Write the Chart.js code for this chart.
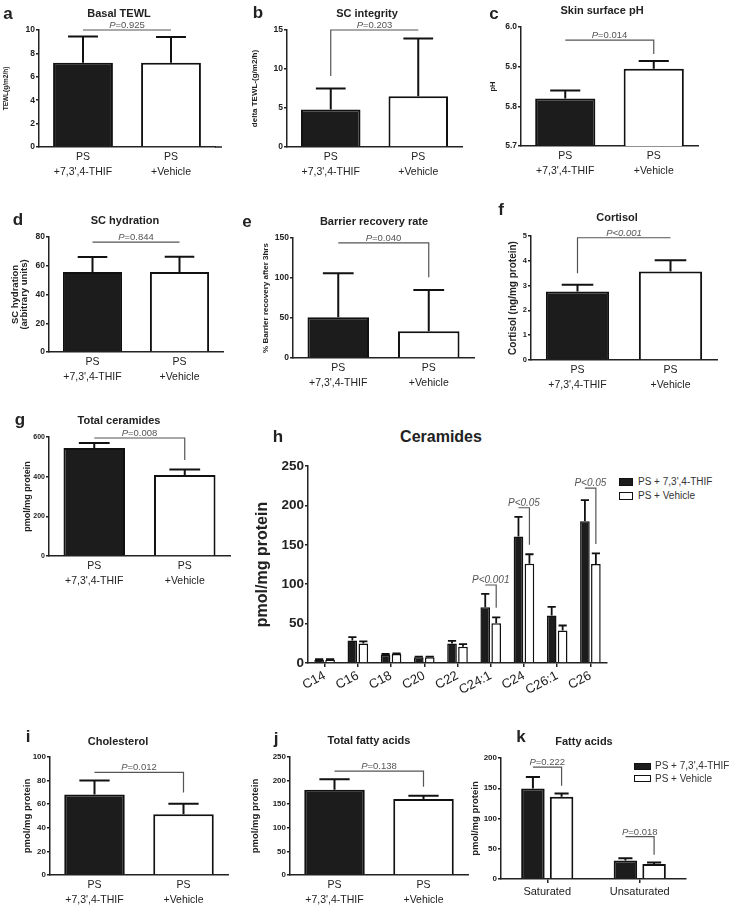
<!DOCTYPE html>
<html>
<head>
<meta charset="utf-8">
<script src="https://cdn.jsdelivr.net/npm/chart.js@4.4.1/dist/chart.umd.min.js"></script>
<style>
  body { margin: 0; background: #fff; width: 732px; height: 909px; position: relative; overflow: hidden;
         font-family: "Liberation Sans", Arial, sans-serif; }
  canvas { position: absolute; }
  .t { position: absolute; transform: translate(-50%, -50%); white-space: nowrap; font-weight: bold; color: #222; line-height: 1; }
  .lg { position: absolute; transform: translate(0, -50%); white-space: nowrap; font-size: 10px; color: #333; line-height: 1; }
  .sq { position: absolute; box-sizing: border-box; border: 1.5px solid #111; }
</style>
</head>
<body>
<script>
// ---- data ----
const groupLabels = [['PS', "+7,3',4-THIF"], ['PS', '+Vehicle']];
const ceramideLabels = ['C14', 'C16', 'C18', 'C20', 'C22', 'C24:1', 'C24', 'C26:1', 'C26'];
const fattyLabels = ['Saturated', 'Unsaturated'];
const seriesNames = ["PS + 7,3',4-THIF", 'PS + Vehicle'];

const basalTewl = [7.2, 7.2];
const basalTewlErr = [2.25, 2.2];
const scIntegrity = [4.8, 6.5];
const scIntegrityErr = [2.7, 7.4];
const skinPh = [5.82, 5.895];
const skinPhErr = [0.02, 0.019];
const scHydration = [55.6, 55.6];
const scHydrationErr = [10.5, 10.7];
const barrierRecovery = [50.8, 33.3];
const barrierRecoveryErr = [55, 51.7];
const cortisol = [2.76, 3.57];
const cortisolErr = [0.27, 0.45];
const totalCeramides = [544, 409];
const totalCeramidesErr = [26, 27];
const cholesterol = [68.2, 51.5];
const cholesterolErr = [11.8, 8.8];
const totalFattyAcids = [180.6, 160.8];
const totalFattyAcidsErr = [22.4, 7];

const cerThif = [4.2, 28.7, 10.5, 7.2, 24.9, 70.8, 160.6, 60.3, 180];
const cerThifErr = [0.6, 4.2, 0.9, 0.8, 3.3, 16.9, 24.9, 10.9, 26.6];
const cerVehicle = [4.2, 24.9, 11.4, 7.2, 20.7, 50.6, 126, 41.3, 125.6];
const cerVehicleErr = [0.6, 2.5, 0.8, 0.8, 3.3, 7.4, 12, 6.3, 13.4];

const faThif = [149.6, 30.7];
const faThifErr = [19.2, 3.8];
const faVehicle = [135.9, 24.7];
const faVehicleErr = [5.5, 2.7];

// y axis ranges [min, max, step]
const basalTewlAxis = [0, 10, 2];
const scIntegrityAxis = [0, 15, 5];
const skinPhAxis = [5.7, 6.0, 0.1];
const scHydrationAxis = [0, 80, 20];
const barrierRecoveryAxis = [0, 150, 50];
const cortisolAxis = [0, 5, 1];
const totalCeramidesAxis = [0, 600, 200];
const ceramidesAxis = [0, 250, 50];
const cholesterolAxis = [0, 100, 20];
const totalFattyAcidsAxis = [0, 250, 50];
const fattyAcidsAxis = [0, 200, 50];

// significance brackets: [category, text, level, left drop, right drop]
const basalTewlP = [[0, 'P=0.925', 10, null, null]];
const scIntegrityP = [[0, 'P=0.203', 15, 9.1, null]];
const skinPhP = [[0, 'P=0.014', 5.967, null, 5.932]];
const scHydrationP = [[0, 'P=0.844', 76.5, null, null]];
const barrierRecoveryP = [[0, 'P=0.040', 144, null, 101]];
const cortisolP = [[0, 'P<0.001', 4.93, 3.5, null]];
const totalCeramidesP = [[0, 'P=0.008', 595, null, 484]];
const ceramidesP = [[5, 'P<0.001', 99, null, 70], [6, 'P<0.05', 197, null, 150], [8, 'P<0.05', 222, null, 151]];
const cholesterolP = [[0, 'P=0.012', 87, null, 70]];
const totalFattyAcidsP = [[0, 'P=0.138', 220, null, 187]];
const fattyAcidsP = [[0, 'P=0.222', 185, null, 154], [1, 'P=0.018', 70, null, 40]];

// ---- drawing ----
Chart.defaults.font.family = '"Liberation Sans", Arial, sans-serif';
Chart.defaults.color = '#222';

const extras = {
  id: 'extras',
  afterDatasetsDraw(chart, args, opts) {
    const ctx = chart.ctx;
    const ys = chart.scales.y;
    const area = chart.chartArea;
    ctx.save();
    // error bars (upper only)
    ctx.strokeStyle = '#111';
    ctx.lineWidth = opts.errWidth || 2;
    (opts.err || []).forEach((errs, di) => {
      const meta = chart.getDatasetMeta(di);
      meta.data.forEach((bar, i) => {
        const v = chart.data.datasets[di].data[i];
        const top = ys.getPixelForValue(v + errs[i]);
        const half = bar.width * opts.cap / 2;
        ctx.beginPath();
        ctx.moveTo(bar.x, bar.y);
        ctx.lineTo(bar.x, top);
        ctx.moveTo(bar.x - half, top);
        ctx.lineTo(bar.x + half, top);
        ctx.stroke();
      });
    });
    // axis line a bit longer than the plot
    if (opts.ext) {
      ctx.lineWidth = 1.5;
      ctx.strokeStyle = '#222';
      ctx.beginPath();
      ctx.moveTo(area.right, area.bottom);
      ctx.lineTo(area.right + opts.ext, area.bottom);
      ctx.stroke();
    }
    // brackets
    (opts.brackets || []).forEach(bk => {
      const [cat, text, level, dropL, dropR] = bk;
      const a = opts.grouped ? chart.getDatasetMeta(0).data[cat] : chart.getDatasetMeta(0).data[0];
      const b = opts.grouped ? chart.getDatasetMeta(1).data[cat] : chart.getDatasetMeta(0).data[1];
      const y = ys.getPixelForValue(level);
      ctx.strokeStyle = '#555';
      ctx.lineWidth = 1.2;
      ctx.beginPath();
      if (dropL != null) {
        ctx.moveTo(a.x, ys.getPixelForValue(dropL));
        ctx.lineTo(a.x, y);
      } else {
        ctx.moveTo(a.x, y);
      }
      ctx.lineTo(b.x, y);
      if (dropR != null) ctx.lineTo(b.x, ys.getPixelForValue(dropR));
      ctx.stroke();

      const size = opts.pSize || 9.5;
      const fam = Chart.defaults.font.family;
      const head = text.slice(0, 1);
      const rest = text.slice(1);
      const restStyle = opts.allItalic ? 'italic ' : '';
      ctx.font = 'italic ' + size + 'px ' + fam;
      const w1 = ctx.measureText(head).width;
      ctx.font = restStyle + size + 'px ' + fam;
      const w2 = ctx.measureText(rest).width;
      let x = (a.x + b.x) / 2 - (w1 + w2) / 2;
      ctx.fillStyle = '#555';
      ctx.textBaseline = 'alphabetic';
      ctx.textAlign = 'left';
      ctx.font = 'italic ' + size + 'px ' + fam;
      ctx.fillText(head, x, y - 2);
      ctx.font = restStyle + size + 'px ' + fam;
      ctx.fillText(rest, x + w1, y - 2);
    });
    ctx.restore();
  }
};

function addText(cls, txt, x, y, size) {
  const d = document.createElement('div');
  d.className = cls;
  d.textContent = txt;
  d.style.left = x + 'px';
  d.style.top = y + 'px';
  d.style.fontSize = size + 'px';
  document.body.appendChild(d);
}

function buildPanel(p) {
  const [x0, y0, x1, y1] = p.box;
  const [l, t, r, b] = p.plot;
  const cv = document.createElement('canvas');
  cv.width = x1 - x0;
  cv.height = y1 - y0;
  cv.style.left = x0 + 'px';
  cv.style.top = y0 + 'px';
  document.body.appendChild(cv);

  const yFontSize = p.yFont;
  const yLine = p.yLine || 1.2;
  const yTitlePad = p.yCx - x0 - yFontSize * yLine / 2;

  new Chart(cv, {
    type: 'bar',
    data: { labels: p.labels, datasets: p.datasets },
    plugins: [extras],
    options: {
      responsive: false,
      animation: false,
      devicePixelRatio: 1,
      layout: { padding: { top: t - y0, right: x1 - r, left: 0, bottom: 0 } },
      plugins: {
        legend: { display: false },
        tooltip: { enabled: false },
        extras: p.extras
      },
      scales: {
        x: {
          grid: p.xTicks
            ? { display: true, drawOnChartArea: false, drawTicks: true, tickLength: 4, offset: false, color: '#222', lineWidth: 1.5 }
            : { display: false, drawTicks: false },
          border: { display: true, color: '#222', width: 1.5 },
          ticks: Object.assign({ color: '#222', font: { size: 10.5, lineHeight: 1.4 }, padding: 3, autoSkip: false, maxRotation: 0, minRotation: 0 }, p.xTickOpts || {}),
          afterFit: s => { s.height = y1 - b; }
        },
        y: {
          min: p.axis[0],
          max: p.axis[1],
          grid: { display: true, drawOnChartArea: false, drawTicks: true, tickLength: 3, color: '#222', lineWidth: 1.5 },
          border: { display: true, color: '#222', width: 1.5 },
          ticks: Object.assign({ stepSize: p.axis[2], color: '#222', padding: 1, font: { size: p.yTickSize || 8.5, weight: 'bold' } }, p.yTickOpts || {}),
          title: {
            display: true,
            text: p.yTitle,
            color: '#222',
            font: { size: yFontSize, weight: 'bold', lineHeight: yLine },
            padding: { top: yTitlePad, bottom: 0 }
          },
          afterFit: s => { s.width = l - x0; }
        }
      }
    }
  });
}

function pairSet(values, pct) {
  return [{
    data: values,
    backgroundColor: ['#1c1c1c', '#ffffff'],
    borderColor: '#111',
    borderWidth: 2,
    categoryPercentage: 1,
    barPercentage: pct || 0.68
  }];
}

function groupSets(a, bVals, cat, bar, bw) {
  return [
    { label: seriesNames[0], data: a, backgroundColor: '#1c1c1c', borderColor: '#111', borderWidth: bw, categoryPercentage: cat, barPercentage: bar },
    { label: seriesNames[1], data: bVals, backgroundColor: '#ffffff', borderColor: '#111', borderWidth: bw, categoryPercentage: cat, barPercentage: bar }
  ];
}

const pairPanels = [
  { box: [0, 5, 232, 190], plot: [39, 30, 215, 147], ext: 7, values: basalTewl, err: basalTewlErr, axis: basalTewlAxis, p: basalTewlP,
    yTitle: 'TEWL(g/m2/h)', yFont: 6.5, yCx: 6 },
  { box: [240, 5, 475, 190], plot: [287, 30, 462, 147], ext: 0, values: scIntegrity, err: scIntegrityErr, axis: scIntegrityAxis, p: scIntegrityP,
    yTitle: 'delta TEWL-(g/m2/h)', yFont: 8, yCx: 255 },
  { box: [480, 5, 732, 190], plot: [521, 27, 698, 146], ext: 0, values: skinPh, err: skinPhErr, axis: skinPhAxis, p: skinPhP,
    yTitle: 'pH', yFont: 7.5, yCx: 493, yTickOpts: { callback: v => v.toFixed(1) } },
  { box: [0, 215, 232, 395], plot: [49, 237, 223, 352], ext: 0, values: scHydration, err: scHydrationErr, axis: scHydrationAxis, p: scHydrationP,
    yTitle: ['SC hydration', '(arbitrary units)'], yFont: 9.5, yLine: 0.95, yCx: 15 },
  { box: [240, 215, 478, 395], plot: [293, 238, 474, 358], ext: 0, values: barrierRecovery, err: barrierRecoveryErr, axis: barrierRecoveryAxis, p: barrierRecoveryP,
    yTitle: '% Barrier recovery after 3hrs', yFont: 8, yCx: 266 },
  { box: [480, 215, 732, 395], plot: [531, 236, 717, 360], ext: 0, values: cortisol, err: cortisolErr, axis: cortisolAxis, p: cortisolP, allItalic: true,
    yTitle: 'Cortisol (ng/mg protein)', yFont: 10, yCx: 513, yTickSize: 7.5 },
  { box: [0, 425, 238, 600], plot: [49, 437, 230, 556], ext: 0, values: totalCeramides, err: totalCeramidesErr, axis: totalCeramidesAxis, p: totalCeramidesP,
    yTitle: 'pmol/mg protein', yFont: 9, yCx: 27.5, yTickSize: 7 },
  { box: [0, 745, 240, 909], plot: [50, 757, 228, 875], ext: 0, values: cholesterol, err: cholesterolErr, axis: cholesterolAxis, p: cholesterolP,
    yTitle: 'pmol/mg protein', yFont: 9.5, yCx: 27, yTickSize: 8 },
  { box: [240, 745, 478, 909], plot: [290, 757, 468, 875], ext: 0, values: totalFattyAcids, err: totalFattyAcidsErr, axis: totalFattyAcidsAxis, p: totalFattyAcidsP,
    yTitle: 'pmol/mg protein', yFont: 9.5, yCx: 255, yTickSize: 8 }
];

pairPanels.forEach(pp => {
  buildPanel({
    box: pp.box, plot: pp.plot, axis: pp.axis, yTitle: pp.yTitle, yFont: pp.yFont, yLine: pp.yLine, yCx: pp.yCx,
    yTickOpts: pp.yTickOpts, yTickSize: pp.yTickSize,
    labels: groupLabels,
    datasets: pairSet(pp.values),
    extras: { err: [pp.err], cap: 0.5, errWidth: 2, ext: pp.ext, brackets: pp.p, allItalic: pp.allItalic, pSize: 9.5 }
  });
});

// h: ceramide species
buildPanel({
  box: [240, 445, 615, 712], plot: [308, 466, 607, 663], axis: ceramidesAxis,
  yTitle: 'pmol/mg protein', yFont: 16, yCx: 263, yTickSize: 13.5,
  labels: ceramideLabels,
  datasets: groupSets(cerThif, cerVehicle, 0.66, 0.88, 1.5),
  xTicks: true,
  xTickOpts: { font: { size: 13 }, minRotation: 28, maxRotation: 28, padding: 1 },
  extras: { err: [cerThifErr, cerVehicleErr], cap: 0.85, errWidth: 1.8, grouped: true, brackets: ceramidesP, allItalic: true, pSize: 10 }
});

// k: fatty acids
buildPanel({
  box: [465, 745, 732, 909], plot: [501, 758, 686, 879], axis: fattyAcidsAxis,
  yTitle: 'pmol/mg protein', yFont: 9.5, yCx: 475, yTickSize: 8,
  labels: fattyLabels,
  datasets: groupSets(faThif, faVehicle, 0.62, 0.82, 2),
  xTicks: true,
  xTickOpts: { font: { size: 11 }, padding: 2 },
  extras: { err: [faThifErr, faVehicleErr], cap: 0.6, errWidth: 2, grouped: true, brackets: fattyAcidsP, pSize: 9.5 }
});

// panel titles and letters
[
  ['Basal TEWL', 119, 13, 11], ['SC integrity', 367, 13, 11], ['Skin surface pH', 602, 10, 11],
  ['SC hydration', 125, 220, 11], ['Barrier recovery rate', 374, 221, 11], ['Cortisol', 617, 217, 11],
  ['Total ceramides', 119, 420, 11], ['Ceramides', 441, 437, 16],
  ['Cholesterol', 118, 741, 11], ['Total fatty acids', 369, 740, 11], ['Fatty acids', 584, 741, 11]
].forEach(tt => addText('t', tt[0], tt[1], tt[2], tt[3]));

[
  ['a', 8, 13], ['b', 258, 12], ['c', 494, 13], ['d', 18, 219], ['e', 247, 221], ['f', 501, 209],
  ['g', 20, 419], ['h', 278, 436], ['i', 28, 736], ['j', 276, 738], ['k', 521, 736]
].forEach(tt => addText('t', tt[0], tt[1], tt[2], 17));

// legends for h and k
function legend(x, ys, sw, sh, tx) {
  seriesNames.forEach((name, i) => {
    const sq = document.createElement('div');
    sq.className = 'sq';
    sq.style.left = x + 'px';
    sq.style.top = (ys[i] - sh / 2) + 'px';
    sq.style.width = sw + 'px';
    sq.style.height = sh + 'px';
    sq.style.background = i === 0 ? '#1c1c1c' : '#fff';
    document.body.appendChild(sq);
    const lab = document.createElement('div');
    lab.className = 'lg';
    lab.textContent = name;
    lab.style.left = tx + 'px';
    lab.style.top = ys[i] + 'px';
    document.body.appendChild(lab);
  });
}
legend(619, [482, 495.5], 14, 8, 638);
legend(634, [766, 778.5], 17, 7, 655);
</script>
</body>
</html>
